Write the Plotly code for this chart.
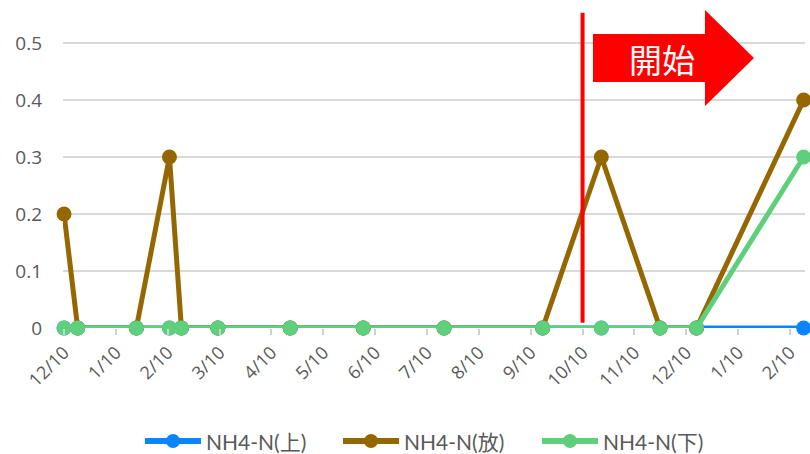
import plotly.graph_objects as go

# Sampling dates and NH4-N readings (mg/L)
sample_dates = ["2021-12-10", "2021-12-18", "2022-01-22", "2022-02-11", "2022-02-18",
                "2022-03-09", "2022-04-21", "2022-06-03", "2022-07-20", "2022-09-17",
                "2022-10-21", "2022-11-25", "2022-12-16", "2023-02-18"]
nh4_upper = [0, 0, 0, 0, 0, 0, 0, 0, 0, 0, 0, 0, 0, 0]
nh4_outlet = [0.2, 0, 0, 0.3, 0, 0, 0, 0, 0, 0, 0.3, 0, 0, 0.4]
nh4_lower = [0, 0, 0, 0, 0, 0, 0, 0, 0, 0, 0, 0, 0, 0.3]

series_names = ["NH4-N(上)", "NH4-N(放)", "NH4-N(下)"]
series_colors = ["#0A84FF", "#946700", "#5ECF7A"]

month_labels = ["12/10", "1/10", "2/10", "3/10", "4/10", "5/10", "6/10", "7/10",
                "8/10", "9/10", "10/10", "11/10", "12/10", "1/10", "2/10"]
y_ticks = [0, 0.1, 0.2, 0.3, 0.4, 0.5]
y_labels = ["0", "0.1", "0.2", "0.3", "0.4", "0.5"]
start_label = "開始"
start_month = 10  # 10/10 tick


def month_pos(d):
    """Months elapsed since 2021-12-10, spaced evenly per month."""
    y, m, dd = (int(p) for p in d.split("-"))
    return (y - 2021) * 12 + (m - 12) + (dd - 10) / 30.4


xs = [month_pos(d) for d in sample_dates]

W, H = 810, 454
ML, MR, MT, MB = 63, 5, 7, 126
PW, PH = W - ML - MR, H - MT - MB


def px(x):
    return (x - ML) / PW


def py(y):
    return (H - MB - y) / PH


fig = go.Figure()
for name, vals, col in zip(series_names, [nh4_upper, nh4_outlet, nh4_lower], series_colors):
    fig.add_trace(go.Scatter(
        x=xs, y=vals, name=name, mode="lines+markers",
        line=dict(color=col, width=5),
        marker=dict(color=col, size=15),
        cliponaxis=False, showlegend=False,
    ))

# start marker: vertical line plus arrow
fig.add_shape(type="line", xref="x", yref="y",
              x0=start_month, x1=start_month, y0=0.009, y1=0.553,
              line=dict(color="#FF0000", width=4), layer="above")

ax0, ax1, ax2 = px(593), px(705), px(754)
by0, by1 = py(82), py(34)
hy0, hy1, tip = py(106), py(10), py(58)
path = (f"M {ax0},{by0} L {ax1},{by0} L {ax1},{hy0} L {ax2},{tip} "
        f"L {ax1},{hy1} L {ax1},{by1} L {ax0},{by1} Z")
fig.add_shape(type="path", xref="paper", yref="paper", path=path,
              fillcolor="#FF0000", line=dict(width=0), layer="above")
fig.add_annotation(x=px(662), y=py(59), xref="paper", yref="paper",
                   xanchor="center", yanchor="middle",
                   text=start_label, showarrow=False,
                   font=dict(family="Noto Sans CJK JP", size=33, color="white"))

# legend row: line-and-dot swatch followed by the series name
legend_y = py(441)
legend_starts = [145, 343, 542]
for name, col, x0 in zip(series_names, series_colors, legend_starts):
    fig.add_shape(type="line", xref="paper", yref="paper",
                  x0=px(x0), x1=px(x0 + 56), y0=legend_y, y1=legend_y,
                  line=dict(color=col, width=6))
    fig.add_shape(type="circle", xref="paper", yref="paper",
                  x0=px(x0 + 28 - 7), x1=px(x0 + 28 + 7),
                  y0=py(441 + 7), y1=py(441 - 7),
                  fillcolor=col, line=dict(width=0))
    fig.add_annotation(x=px(x0 + 59), y=legend_y, xref="paper", yref="paper",
                       xanchor="left", yanchor="middle", showarrow=False,
                       text=name, font=dict(size=21, color="#595959"))

fig.update_layout(
    width=W, height=H,
    margin=dict(l=ML, r=MR, t=MT, b=MB),
    paper_bgcolor="white", plot_bgcolor="white",
    font=dict(family="Lato, Noto Sans CJK JP", color="#595959"),
    showlegend=False,
    xaxis=dict(
        range=[-0.02, (805 - 64) / 51.857],
        tickmode="array", tickvals=list(range(len(month_labels))), ticktext=month_labels,
        tickangle=-45, tickfont=dict(family="Open Sans", size=18, color="#595959"),
        ticks="outside", ticklen=6, tickcolor="#D0D0D0", tickwidth=2,
        showgrid=False, zeroline=False, showline=False,
    ),
    yaxis=dict(
        range=[0, (H - MB - MT) / 570],
        tickmode="array", tickvals=y_ticks, ticktext=y_labels,
        tickfont=dict(family="Open Sans", size=19, color="#595959"),
        showgrid=True, gridcolor="#D9D9D9", gridwidth=2,
        zeroline=False, showline=False, ticklabelstandoff=20,
    ),
)

fig.write_html("out.html")
